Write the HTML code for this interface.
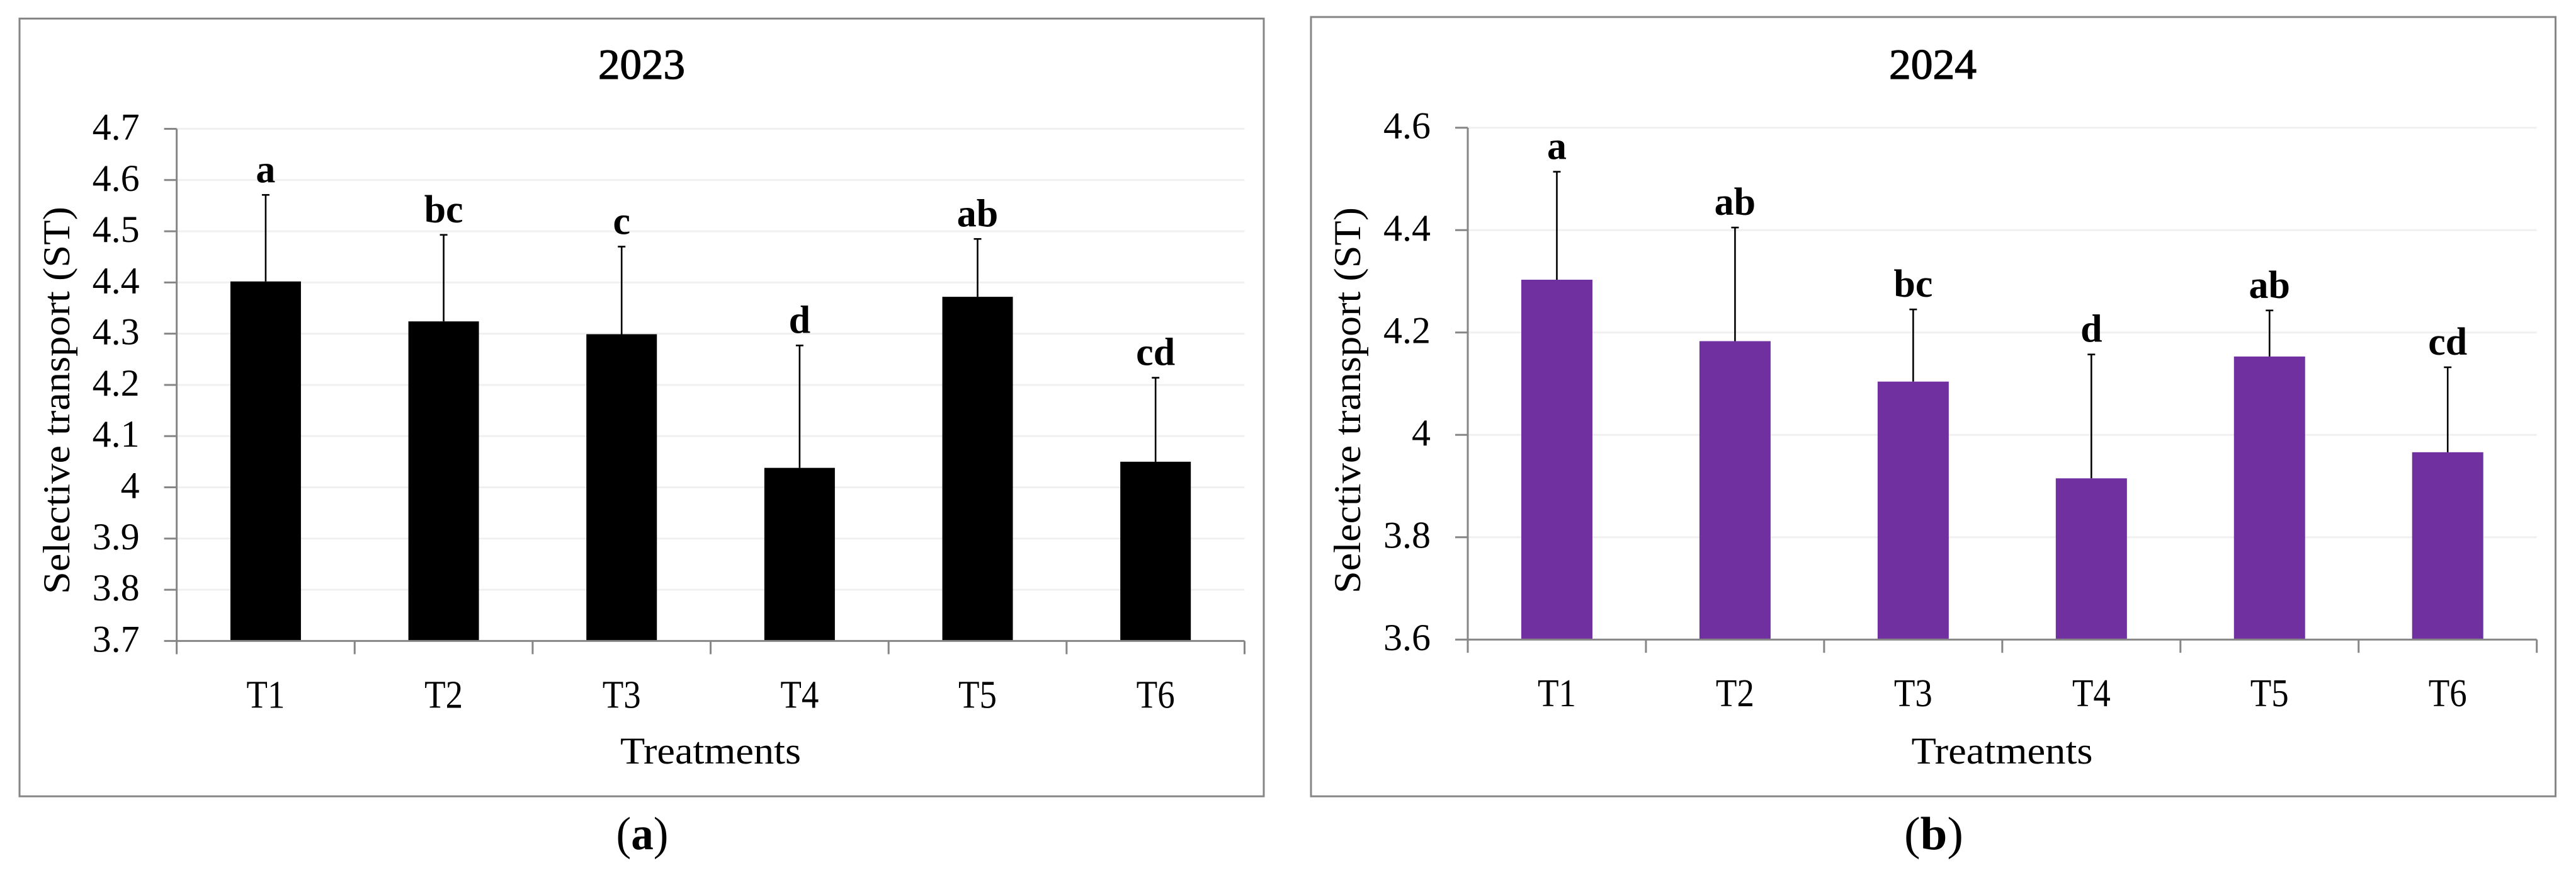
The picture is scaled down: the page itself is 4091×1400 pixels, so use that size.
<!DOCTYPE html>
<html lang="en">
<head>
<meta charset="utf-8">
<title>Selective transport 2023 and 2024</title>
<style>
html,body{margin:0;padding:0;background:#fff;}
body{width:4091px;height:1400px;overflow:hidden;}
svg{display:block;font-family:"Liberation Serif","DejaVu Serif",serif;}
</style>
</head>
<body>
<svg id="figure" xmlns="http://www.w3.org/2000/svg" width="4091" height="1400" viewBox="0 0 4091 1400">
  <rect width="4091" height="1400" fill="#ffffff"/>
  <g id="panel-a">
    <rect x="31" y="29.5" width="1976" height="1234.5" fill="#fff" stroke="#868686" stroke-width="3"/>
    <text x="1019" y="125" font-size="68" stroke="#000" stroke-width="1.3" text-anchor="middle" textLength="138" lengthAdjust="spacingAndGlyphs">2023</text>
    <text transform="translate(110,943) rotate(-90)" font-size="60" textLength="615" lengthAdjust="spacingAndGlyphs">Selective transport (ST)</text>
    <text x="1128.5" y="1212" font-size="60" text-anchor="middle" textLength="287" lengthAdjust="spacingAndGlyphs">Treatments</text>
    <text x="1020" y="1348" font-size="74" text-anchor="middle" textLength="83" lengthAdjust="spacingAndGlyphs">(<tspan font-weight="bold">a</tspan>)</text>
  </g>
  <g id="panel-b">
    <rect x="2082" y="27" width="1976.5" height="1237" fill="#fff" stroke="#868686" stroke-width="3"/>
    <text x="3069.5" y="125" font-size="68" stroke="#000" stroke-width="1.3" text-anchor="middle" textLength="139" lengthAdjust="spacingAndGlyphs">2024</text>
    <text transform="translate(2160,942) rotate(-90)" font-size="60" textLength="613" lengthAdjust="spacingAndGlyphs">Selective transport (ST)</text>
    <text x="3179.5" y="1212" font-size="60" text-anchor="middle" textLength="288" lengthAdjust="spacingAndGlyphs">Treatments</text>
    <text x="3071" y="1348" font-size="74" text-anchor="middle" textLength="94" lengthAdjust="spacingAndGlyphs">(<tspan font-weight="bold">b</tspan>)</text>
  </g>
</svg>
<script>
const categories = ['T1', 'T2', 'T3', 'T4', 'T5', 'T6'];

const ticks2023 = [3.7, 3.8, 3.9, 4, 4.1, 4.2, 4.3, 4.4, 4.5, 4.6, 4.7];
const values2023 = [4.402, 4.324, 4.299, 4.038, 4.372, 4.05];
const errors2023 = [0.169, 0.169, 0.171, 0.239, 0.113, 0.164];
const letters2023 = ['a', 'bc', 'c', 'd', 'ab', 'cd'];

const ticks2024 = [3.6, 3.8, 4, 4.2, 4.4, 4.6];
const values2024 = [4.303, 4.183, 4.104, 3.915, 4.153, 3.966];
const errors2024 = [0.211, 0.222, 0.141, 0.242, 0.09, 0.166];
const letters2024 = ['a', 'ab', 'bc', 'd', 'ab', 'cd'];

const SVG_NS = 'http://www.w3.org/2000/svg';

function mk(parent, tag, attrs, content) {
  const node = document.createElementNS(SVG_NS, tag);
  for (const key in attrs) node.setAttribute(key, attrs[key]);
  if (content !== undefined) node.textContent = content;
  parent.appendChild(node);
  return node;
}

function drawChart(parent, year, plot, ticks, values, errors, letters, color) {
  const yMin = ticks[0];
  const yMax = ticks[ticks.length - 1];
  const yScale = v => plot.bottom - (v - yMin) / (yMax - yMin) * (plot.bottom - plot.top);
  const band = (plot.right - plot.left) / categories.length;
  const xCenter = i => plot.left + band * (i + 0.5);
  const axisColor = '#868686';
  let el;

  ticks.forEach(t => {
    const y = yScale(t);
    if (t !== yMin) {
      el = mk(parent, 'line', {x1: plot.left, x2: plot.right, y1: y, y2: y, stroke: '#f0f0f0', 'stroke-width': 3});
      
      
    }
  });

  categories.forEach((cat, i) => {
    const top = yScale(values[i]);
    const errTop = yScale(values[i] + errors[i]);
    const cx = xCenter(i);

    el = mk(parent, 'line', {x1: cx, x2: cx, y1: top, y2: errTop, stroke: '#000', 'stroke-width': 2.6});
    
    

    el = mk(parent, 'line', {x1: cx - 6, x2: cx + 6, y1: errTop, y2: errTop, stroke: '#000', 'stroke-width': 2.6});
    
    

    el = mk(parent, 'rect', {x: cx - plot.barWidth / 2, y: top, width: plot.barWidth, height: plot.bottom - top, fill: color});
    
    

    el = mk(parent, 'text', {x: cx, y: errTop - 20, 'font-size': 62, 'font-weight': 'bold', 'text-anchor': 'middle'}, letters[i]);
    
    

    el = mk(parent, 'text', {x: cx, y: plot.bottom + 106, 'font-size': 62, 'text-anchor': 'middle', textLength: 61, lengthAdjust: 'spacingAndGlyphs'}, cat);
    
    
  });

  el = mk(parent, 'line', {x1: plot.left, x2: plot.left, y1: plot.top, y2: plot.bottom, stroke: axisColor, 'stroke-width': 3});
  
  

  el = mk(parent, 'line', {x1: plot.left, x2: plot.right, y1: plot.bottom, y2: plot.bottom, stroke: axisColor, 'stroke-width': 3});
  
  

  ticks.forEach(t => {
    const y = yScale(t);
    el = mk(parent, 'line', {x1: plot.left - 20, x2: plot.left, y1: y, y2: y, stroke: axisColor, 'stroke-width': 3});
    
    

    el = mk(parent, 'text', {x: plot.left - 59, y: y + 17, 'font-size': 60, 'text-anchor': 'end'}, String(t));
    
    
  });

  for (let i = 0; i <= categories.length; i++) {
    const x = plot.left + band * i;
    el = mk(parent, 'line', {x1: x, x2: x, y1: plot.bottom, y2: plot.bottom + 21, stroke: axisColor, 'stroke-width': 3});
    
    
  }
}

drawChart(document.getElementById('panel-a'), '2023',
  {left: 280.6, right: 1976.5, top: 204.5, bottom: 1017.4, barWidth: 112},
  ticks2023, values2023, errors2023, letters2023, '#000000');

drawChart(document.getElementById('panel-b'), '2024',
  {left: 2331, right: 4028.7, top: 202.7, bottom: 1015.2, barWidth: 113},
  ticks2024, values2024, errors2024, letters2024, '#7030A0');
</script>
</body>
</html>
